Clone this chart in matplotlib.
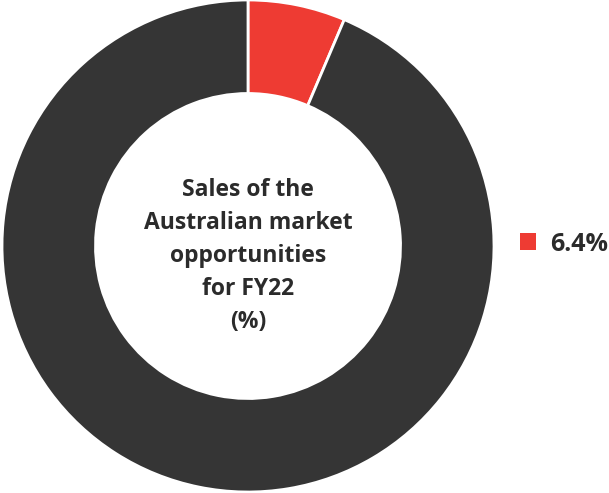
import matplotlib.pyplot as plt
from matplotlib.patches import Patch

# Data
labels = ["6.4%", ""]
shares = [6.4, 93.6]
colors = ["#EE3B33", "#353535"]
center_text = "Sales of the\nAustralian market\nopportunities\nfor FY22\n(%)"

plt.rcParams["font.family"] = ["Open Sans", "DejaVu Sans"]

fig = plt.figure(figsize=(6.09, 4.93), dpi=100)
ax = fig.add_axes([2 / 609, 1 / 493, 492 / 609, 492 / 493])

wedges, _ = ax.pie(
    shares,
    colors=colors,
    startangle=90,
    counterclock=False,
    radius=1,
    wedgeprops=dict(width=0.38, edgecolor="white", linewidth=2),
)
ax.set_xlim(-1, 1)
ax.set_ylim(-1, 1)
ax.set_aspect("equal")

ax.text(0, -0.04, center_text, ha="center", va="center",
        fontsize=16.5, fontweight="bold", color="#2b2b2b", linespacing=1.5)

fig.legend(
    handles=[Patch(facecolor=colors[0], edgecolor="none")], labels=[labels[0]],
    loc="center left", bbox_to_anchor=(520 / 609, 1 - 244 / 493),
    frameon=False, prop=dict(weight="bold", size=18),
    borderpad=0, borderaxespad=0,
    handlelength=0.65, handleheight=0.65, handletextpad=0.55,
    labelcolor="#2b2b2b",
)

fig.savefig("out.png", dpi=100)
